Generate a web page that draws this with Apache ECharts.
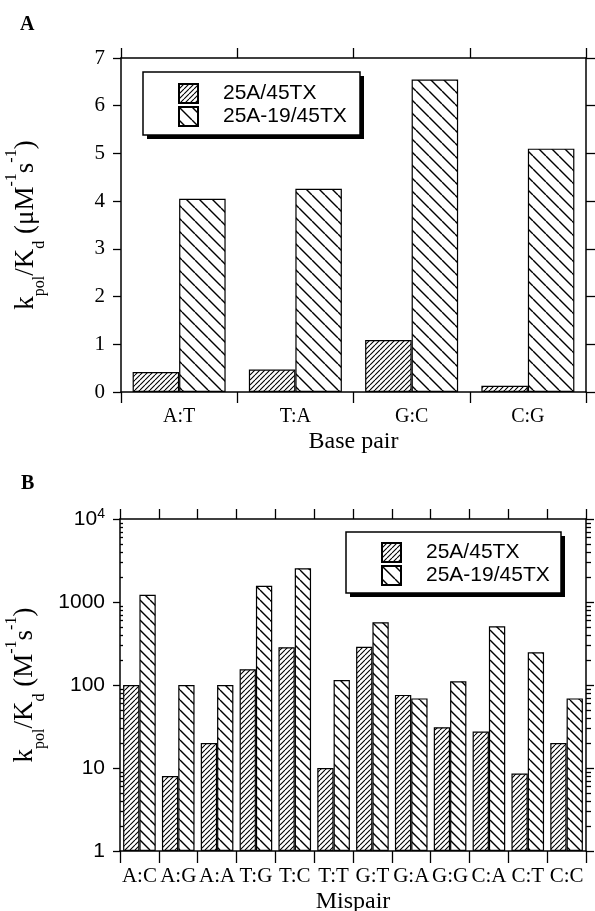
<!DOCTYPE html>
<html>
<head>
<meta charset="utf-8">
<script src="https://cdn.jsdelivr.net/npm/echarts@6/dist/echarts.min.js"></script>
<style>
  html, body { margin: 0; padding: 0; background: #fff; }
  #chart { width: 595px; height: 911px; }
</style>
</head>
<body>
<div id="chart"></div>
<script>
// Panel A: correct base pairs, linear scale
const basePairs = ['A:T', 'T:A', 'G:C', 'C:G'];
const baseTX = [0.42, 0.47, 1.09, 0.13];
const baseTX19 = [4.05, 4.26, 6.55, 5.10];
const baseTicks = [0, 7, 1]; // min, max, step

// Panel B: mispairs, log scale
const mispairs = ['A:C', 'A:G', 'A:A', 'T:G', 'T:C', 'T:T', 'G:T', 'G:A', 'G:G', 'C:A', 'C:T', 'C:C'];
const misTX = [100, 8, 20, 155, 285, 10, 288, 76, 31, 27.5, 8.6, 20];
const misTX19 = [1220, 100, 100, 1570, 2550, 115, 570, 69, 111, 510, 248, 69];
const misRange = [1, 10000];

const seriesNames = ['25A/45TX', '25A-19/45TX'];

const SERIF = '"Liberation Serif", "Times New Roman", serif';
const SANS = '"Liberation Sans", Arial, Helvetica, sans-serif';
const INK = '#000';

// Minor tick positions of a decade log axis, in exponent units
const minorLog = [];
for (let d = 0; d < 4; d++) {
  for (let k = 2; k <= 9; k++) minorLog.push(Math.log10(k * Math.pow(10, d)));
}

// Diagonal hatch fill; dir > 0 draws "/", dir < 0 draws "\"
function hatch(size, dir, lw) {
  const c = document.createElement('canvas');
  c.width = size; c.height = size;
  const g = c.getContext('2d');
  g.fillStyle = '#fff';
  g.fillRect(0, 0, size, size);
  g.strokeStyle = INK;
  g.lineWidth = lw;
  g.beginPath();
  for (let k = -1; k <= 1; k++) {
    if (dir > 0) { g.moveTo(k * size, size); g.lineTo(k * size + size, 0); }
    else { g.moveTo(k * size, 0); g.lineTo(k * size + size, size); }
  }
  g.stroke();
  return { image: c, repeat: 'repeat' };
}

const fwdA = hatch(5, 1, 1.1);
const backA = hatch(13, -1, 1.4);
const fwdB = hatch(5, 1, 1.1);
const backB = hatch(10, -1, 1.4);

const axisLine = { show: true, onZero: false, lineStyle: { color: INK, width: 1.5 } };
const tick = (len, inside) => ({ show: true, length: len, inside: !!inside, lineStyle: { color: INK, width: 1.3 } });

const yTitleRich = {
  t: { fontFamily: SERIF, fontSize: 27, lineHeight: 44, color: INK, verticalAlign: 'middle' },
  s: { fontFamily: SERIF, fontSize: 16, lineHeight: 18, color: INK, verticalAlign: 'bottom' },
  p: { fontFamily: SERIF, fontSize: 16, lineHeight: 20, color: INK, verticalAlign: 'top' }
};

// Legend frame with a solid drop shadow
function legendFrame(x, y, w, h) {
  return [
    { type: 'rect', z: 10, shape: { x: x + 4, y: y + 4, width: w, height: h }, style: { fill: INK } },
    { type: 'rect', z: 11, shape: { x: x, y: y, width: w, height: h }, style: { fill: '#fff', stroke: INK, lineWidth: 1.5 } }
  ];
}

function legendAt(left, top, pad) {
  return {
    orient: 'vertical', left: left, top: top, z: 20,
    data: seriesNames, icon: 'rect', selectedMode: false,
    itemWidth: 19, itemHeight: 19, itemGap: 2,
    padding: pad,
    textStyle: { fontFamily: SANS, fontSize: 21, color: INK, padding: [0, 0, 0, 20] }
  };
}

const chart = echarts.init(document.getElementById('chart'), null, { renderer: 'canvas' });

chart.setOption({
  backgroundColor: '#fff',
  animation: false,
  graphic: [
    { type: 'text', left: 20, top: 15, style: { text: 'A', font: 'bold 20px ' + SERIF, fill: INK } },
    { type: 'text', left: 21, top: 474, style: { text: 'B', font: 'bold 20px ' + SERIF, fill: INK } }
  ].concat(legendFrame(143, 72, 217, 63), legendFrame(346, 532, 215, 61)),
  legend: [
    legendAt(143, 72, [11, 13, 12, 35]),
    legendAt(346, 532, [10, 13, 11, 35])
  ],
  grid: [
    { left: 121, top: 58, width: 465, height: 334, containLabel: false, outerBoundsMode: 'none' },
    { left: 120, top: 519, width: 466, height: 332, containLabel: false, outerBoundsMode: 'none' }
  ],
  xAxis: [
    {
      gridIndex: 0, type: 'category', position: 'bottom', data: basePairs,
      axisLine: axisLine, axisTick: tick(11),
      axisLabel: { fontFamily: SERIF, fontSize: 20, color: INK, margin: 15 },
      name: 'Base pair', nameLocation: 'middle', nameGap: 38,
      nameTextStyle: { fontFamily: SERIF, fontSize: 24, color: INK }
    },
    {
      gridIndex: 0, type: 'category', position: 'top', data: basePairs,
      axisLine: axisLine, axisTick: tick(10), axisLabel: { show: false }
    },
    {
      gridIndex: 1, type: 'category', position: 'bottom', data: mispairs,
      axisLine: axisLine, axisTick: tick(12),
      axisLabel: { fontFamily: SERIF, fontSize: 21, color: INK, margin: 15, interval: 0 },
      name: 'Mispair', nameLocation: 'middle', nameGap: 39,
      nameTextStyle: { fontFamily: SERIF, fontSize: 24, color: INK }
    },
    {
      gridIndex: 1, type: 'category', position: 'top', data: mispairs,
      axisLine: axisLine, axisTick: tick(10), axisLabel: { show: false }
    }
  ],
  yAxis: [
    {
      gridIndex: 0, type: 'value', position: 'left',
      min: baseTicks[0], max: baseTicks[1], interval: baseTicks[2],
      axisLine: axisLine, axisTick: tick(8), splitLine: { show: false },
      axisLabel: { fontFamily: SERIF, fontSize: 21, color: INK, margin: 16 },
      name: '{t|k}{s|pol}{t|/K}{s|d}{t| (μM}{p|-1}{t|s}{p|-1}{t|)}',
      nameLocation: 'middle', nameRotate: 90, nameGap: 73,
      nameTextStyle: { rich: yTitleRich }
    },
    {
      gridIndex: 0, type: 'value', position: 'right',
      min: baseTicks[0], max: baseTicks[1], interval: baseTicks[2],
      axisLine: axisLine, axisTick: tick(9), splitLine: { show: false },
      axisLabel: { show: false }
    },
    {
      gridIndex: 1, type: 'log', logBase: 10, position: 'left',
      min: misRange[0], max: misRange[1],
      axisLine: axisLine, axisTick: tick(7), splitLine: { show: false },
      axisLabel: {
        fontFamily: SANS, fontSize: 21, lineHeight: 24, color: INK, margin: 15,
        formatter: function (v) {
          const r = Math.round(v);
          return r === 10000 ? '10{sup|4}' : String(r);
        },
        rich: { sup: { fontFamily: SANS, fontSize: 14, lineHeight: 16, color: INK, verticalAlign: 'top' } }
      },
      name: '{t|k}{s|pol}{t|/K}{s|d}{t| (M}{p|-1}{t|s}{p|-1}{t|)}',
      nameLocation: 'middle', nameRotate: 90, nameGap: 72,
      nameTextStyle: { rich: yTitleRich }
    },
    {
      gridIndex: 1, type: 'log', logBase: 10, position: 'right',
      min: misRange[0], max: misRange[1],
      axisLine: axisLine, axisTick: tick(8), splitLine: { show: false },
      axisLabel: { show: false }
    },
    {
      gridIndex: 1, type: 'value', position: 'left', min: 0, max: 4,
      axisLine: { show: false }, splitLine: { show: false }, axisLabel: { show: false },
      axisTick: Object.assign(tick(3, true), { customValues: minorLog })
    },
    {
      gridIndex: 1, type: 'value', position: 'right', min: 0, max: 4,
      axisLine: { show: false }, splitLine: { show: false }, axisLabel: { show: false },
      axisTick: Object.assign(tick(5), { customValues: minorLog })
    }
  ],
  series: [
    {
      type: 'bar', name: seriesNames[0], xAxisIndex: 0, yAxisIndex: 0, data: baseTX,
      barGap: '0%', barCategoryGap: '20%',
      itemStyle: { color: fwdA, borderColor: INK, borderWidth: 1.2 }
    },
    {
      type: 'bar', name: seriesNames[1], xAxisIndex: 0, yAxisIndex: 0, data: baseTX19,
      barGap: '0%', barCategoryGap: '20%',
      itemStyle: { color: backA, borderColor: INK, borderWidth: 1.2 }
    },
    {
      type: 'bar', name: seriesNames[0], xAxisIndex: 2, yAxisIndex: 2, data: misTX,
      barGap: '0%', barCategoryGap: '16%',
      itemStyle: { color: fwdB, borderColor: INK, borderWidth: 1.2 }
    },
    {
      type: 'bar', name: seriesNames[1], xAxisIndex: 2, yAxisIndex: 2, data: misTX19,
      barGap: '0%', barCategoryGap: '16%',
      itemStyle: { color: backB, borderColor: INK, borderWidth: 1.2 }
    }
  ]
});
</script>
</body>
</html>
